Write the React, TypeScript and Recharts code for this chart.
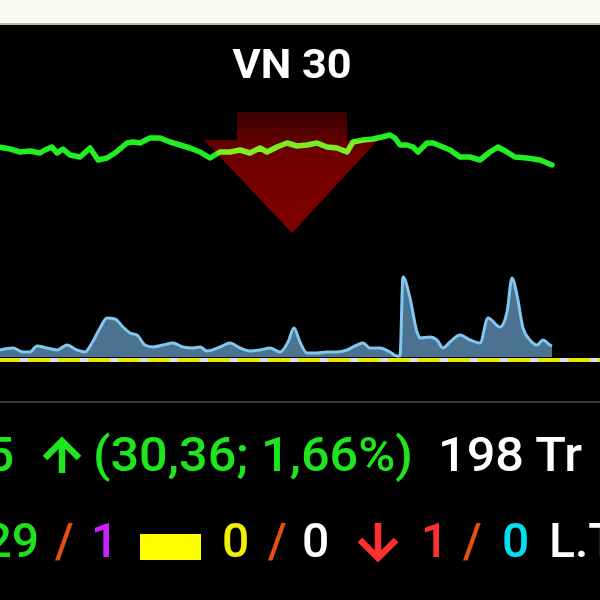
import React from 'react';
import { LineChart, Line, AreaChart, Area, XAxis, YAxis, ReferenceLine } from 'recharts';

// time positions on a 0..600 session scale
const priceTimes = [0,10,20,30,40,45,52,57,63,70,80,90,98,107,115,127,133,140,150,160,170,180,190,200,210,220,230,240,250,260,267,277,287,297,307,317,327,337,347,353,363,373,382,390,395,400,407,413,418,427,433,443,450,460,470,480,490,498,507,515,527,540,552];
const prices = [1860.8,1860.3,1859.4,1859.7,1859.1,1860.0,1860.9,1859.1,1860.3,1858.5,1857.9,1860.6,1857.0,1857.6,1859.1,1862.1,1862.4,1862.1,1863.6,1863.6,1862.4,1861.5,1860.6,1859.4,1857.6,1859.4,1859.4,1860.0,1859.1,1860.6,1859.4,1860.9,1862.1,1861.2,1861.5,1862.1,1860.9,1860.6,1859.4,1862.4,1863.0,1863.3,1863.9,1864.5,1863.6,1861.5,1861.5,1860.9,1859.4,1862.1,1862.1,1860.9,1860.0,1857.9,1857.9,1857.0,1859.4,1860.9,1859.4,1857.9,1857.6,1857.0,1855.5];

const volumeTimes = [0,13,23,30,37,47,57,67,77,85,92,100,107,115,123,130,137,145,153,163,173,183,193,200,207,220,230,240,250,260,270,280,288,294,300,307,317,327,337,347,357,363,370,380,390,397,400,403,410,417,420,430,437,443,450,460,470,480,488,500,507,512,517,523,530,537,543,550,552];
const volumes = [70,90,50,50,110,90,70,120,70,50,140,290,390,380,300,240,220,120,100,120,140,100,90,100,60,100,140,90,60,70,90,50,150,290,150,40,40,50,50,70,120,140,90,90,50,10,10,800,590,250,190,200,170,90,150,220,170,140,390,300,450,790,620,290,170,120,170,120,110];

const title = 'VN 30';
const lastPrice = '1.855,05';
const changeText = '(30,36; 1,66%)';
const valueText = '198 Tr';
const advances = '29';
const ceilings = '1';
const unchanged = '0';
const unchangedB = '0';
const declines = '1';
const floors = '0';
const tailText = 'L.T';

const priceData = priceTimes.map((t, i) => ({ t, p: prices[i] }));
const volumeData = volumeTimes.map((t, i) => ({ t, v: volumes[i] }));

const FONT = "Roboto, 'Noto Sans', sans-serif";
const W = 500;

export default function App() {
  return (
    <div style={{ position: 'absolute', left: 0, top: 0, width: 600, height: 600, background: '#000', overflow: 'hidden', fontFamily: FONT, filter: 'blur(0.6px)' }}>
      <div style={{ position: 'absolute', left: 0, top: 0, width: 600, height: 23, background: '#fbfbf6' }} />
      <div style={{ position: 'absolute', left: 0, top: 23, width: 600, height: 2, background: '#b8b8b0' }} />
      <div style={{ position: 'absolute', left: 0, top: 401, width: 600, height: 2, background: '#3a3a3a' }} />

      <div style={{ position: 'absolute', left: 0, top: 100 }}>
        <LineChart width={600} height={140} data={priceData} margin={{ top: 0, right: 0, bottom: 0, left: 0 }}>
          <XAxis dataKey="t" type="number" domain={[0, 600]} hide />
          <YAxis type="number" domain={[1833, 1875]} hide />
          <Line dataKey="p" type="linear" stroke="#22ee22" strokeWidth={5.5} dot={false} strokeLinejoin="round" strokeLinecap="round" isAnimationActive={false} />
        </LineChart>
      </div>

      <div style={{ position: 'absolute', left: 0, top: 257 }}>
        <AreaChart width={600} height={110} data={volumeData} margin={{ top: 0, right: 0, bottom: 7, left: 0 }}>
          <XAxis dataKey="t" type="number" domain={[0, 600]} hide />
          <YAxis type="number" domain={[-30, 1000]} hide />
          <Area dataKey="v" type="monotone" baseValue={0} stroke="#80c8ee" strokeWidth={3} fill="#4b7391" fillOpacity={1} isAnimationActive={false} />
          <ReferenceLine y={-30} stroke="#e8e800" strokeWidth={4} />
          <ReferenceLine y={-30} stroke="#e0e0ec" strokeWidth={4} strokeDasharray="8 22" strokeDashoffset={10} />
        </AreaChart>
      </div>

      <svg width={600} height={600} style={{ position: 'absolute', left: 0, top: 0, pointerEvents: 'none' }}>
        <defs>
          <linearGradient id="arrowGrad" x1="0" y1="112" x2="0" y2="233" gradientUnits="userSpaceOnUse">
            <stop offset="0" stopColor="#3a0000" />
            <stop offset="0.35" stopColor="#700000" />
            <stop offset="1" stopColor="#820000" />
          </linearGradient>
        </defs>
        <polygon points="237,112 347,112 347,140 378,140 292,233 204,140 237,140" fill="url(#arrowGrad)" style={{ mixBlendMode: 'screen' }} />

        <text x={292} y={78} textAnchor="middle" fill="#fff" fontSize={40} fontWeight={700} fontFamily={FONT} textLength={119} lengthAdjust="spacingAndGlyphs">{title}</text>

        <text x={14} y={471} textAnchor="end" fill="#1ee61e" fontSize={48} fontWeight={W} fontFamily={FONT}>{lastPrice}</text>
        <path d="M62,473 L62,441 M45,458 L62,441 L79,458" stroke="#1ee61e" strokeWidth={6.5} fill="none" />
        <text x={93} y={471} fill="#1ee61e" fontSize={48} fontWeight={W} fontFamily={FONT} textLength={320} lengthAdjust="spacingAndGlyphs">{changeText}</text>
        <text x={438} y={471} fill="#fff" fontSize={48} fontWeight={W} fontFamily={FONT} textLength={144} lengthAdjust="spacingAndGlyphs">{valueText}</text>

        <text x={39} y={557} textAnchor="end" fill="#1ee01e" fontSize={48} fontWeight={W} fontFamily={FONT}>{advances}</text>
        <text x={55} y={557} fill="#e25012" fontSize={48} fontWeight={W} fontFamily={FONT}>/</text>
        <text x={91} y={557} fill="#cc22ff" fontSize={48} fontWeight={W} fontFamily={FONT}>{ceilings}</text>
        <rect x={140} y={534} width={61} height={26} fill="#ffff00" />
        <text x={222} y={557} fill="#f0f000" fontSize={48} fontWeight={W} fontFamily={FONT}>{unchanged}</text>
        <text x={268} y={557} fill="#e25012" fontSize={48} fontWeight={W} fontFamily={FONT}>/</text>
        <text x={302} y={557} fill="#fff" fontSize={48} fontWeight={W} fontFamily={FONT}>{unchangedB}</text>
        <path d="M378,558 L378,523 M360,540 L378,558 L396,540" stroke="#ff3030" strokeWidth={6.5} fill="none" />
        <text x={421} y={557} fill="#ff3030" fontSize={48} fontWeight={W} fontFamily={FONT}>{declines}</text>
        <text x={463} y={557} fill="#e25012" fontSize={48} fontWeight={W} fontFamily={FONT}>/</text>
        <text x={502} y={557} fill="#00e0f0" fontSize={48} fontWeight={W} fontFamily={FONT}>{floors}</text>
        <text x={549} y={557} fill="#fff" fontSize={48} fontWeight={W} fontFamily={FONT}>{tailText}</text>
      </svg>
    </div>
  );
}
